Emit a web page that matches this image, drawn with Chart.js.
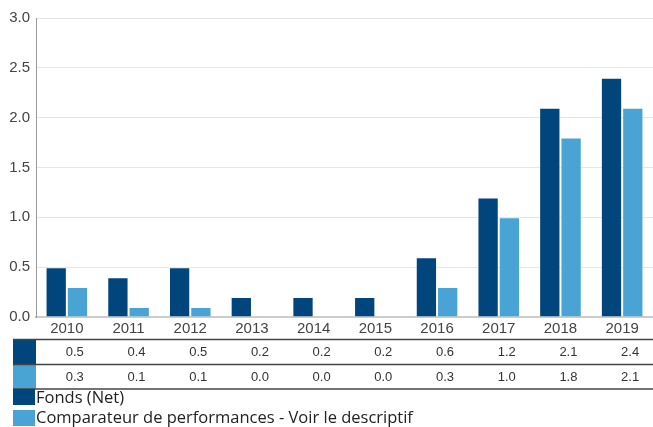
<!DOCTYPE html>
<html><head><meta charset="utf-8">
<script src="https://cdn.jsdelivr.net/npm/chart.js@4/dist/chart.umd.min.js"></script>
<style>html,body{margin:0;padding:0;background:#fff;}#wrap{width:653px;height:427px;position:relative;}</style>
</head><body><div id="wrap"><canvas id="c" width="653" height="427"></canvas></div>
<script>
const categories = ['2010','2011','2012','2013','2014','2015','2016','2017','2018','2019'];
const fondsNet = [0.5,0.4,0.5,0.2,0.2,0.2,0.6,1.2,2.1,2.4];
const comparateur = [0.3,0.1,0.1,0.0,0.0,0.0,0.3,1.0,1.8,2.1];
const seriesNames = ['Fonds (Net)','Comparateur de performances - Voir le descriptif'];
const yTicks = [0,0.5,1.0,1.5,2.0,2.5,3.0];
const colors = ['#00457c','#49a3d5'];

const tablePlugin = {
  id:'tablePlugin',
  afterDraw(chart){
    const ctx = chart.ctx, xs = chart.scales.x;
    const rows = [fondsNet, comparateur];
    const lineY = [339.5, 364.5, 389];
    ctx.save();
    ctx.fillStyle = colors[0]; ctx.fillRect(13,340,23,24);
    ctx.fillStyle = colors[1]; ctx.fillRect(13,365,23,24);
    ctx.strokeStyle = '#444'; ctx.lineWidth = 1.3;
    lineY.forEach(y=>{ctx.beginPath();ctx.moveTo(13,y);ctx.lineTo(653,y);ctx.stroke();});
    ctx.font = '13px "Liberation Sans", Arial, sans-serif';
    ctx.fillStyle = '#333'; ctx.textAlign='right'; ctx.textBaseline='middle';
    rows.forEach((r,ri)=>{
      r.forEach((v,i)=>{
        const x = xs.getPixelForValue(i) + 17;
        ctx.fillText(v.toFixed(1), x, ri===0?352:377);
      });
    });
    ctx.fillStyle = colors[0]; ctx.fillRect(13,389,22,16);
    ctx.fillStyle = colors[1]; ctx.fillRect(13,410,22,16);
    ctx.font = '16.5px "Open Sans", sans-serif';
    ctx.fillStyle = '#222'; ctx.textAlign='left';
    ctx.fillText(seriesNames[0], 36, 398);
    ctx.fillText(seriesNames[1], 36, 418);
    ctx.restore();
  }
};

new Chart(document.getElementById('c'), {
  type:'bar',
  data:{
    labels:categories,
    datasets:[
      {label:seriesNames[0], data:fondsNet, backgroundColor:colors[0], borderColor:'rgba(255,255,255,0.2)', borderWidth:1, categoryPercentage:0.69, barPercentage:1.0},
      {label:seriesNames[1], data:comparateur, backgroundColor:colors[1], borderColor:'rgba(255,255,255,0.2)', borderWidth:1, categoryPercentage:0.69, barPercentage:1.0}
    ]
  },
  options:{
    responsive:false, animation:false,
    layout:{padding:{top:18,right:0,bottom:88,left:0}},
    plugins:{legend:{display:false}, tooltip:{enabled:false}},
    scales:{
      x:{
        grid:{display:false, drawTicks:false},
        border:{color:'#cccccc', width:2},
        ticks:{color:'#444', font:{family:'"Liberation Sans", Arial, sans-serif', size:15}, padding:3, maxRotation:0},
        afterFit(s){s.height=22;}
      },
      y:{
        min:0, max:3,
        afterBuildTicks(s){s.ticks = yTicks.map(v=>({value:v}));},
        grid:{color:'#e6e6e6', drawTicks:false},
        border:{color:'#999', width:1},
        ticks:{color:'#444', font:{family:'"Liberation Sans", Arial, sans-serif', size:15}, padding:6, callback:v=>Number(v).toFixed(1)},
        afterFit(s){s.width=36;}
      }
    }
  },
  plugins:[tablePlugin]
});
</script></body></html>
